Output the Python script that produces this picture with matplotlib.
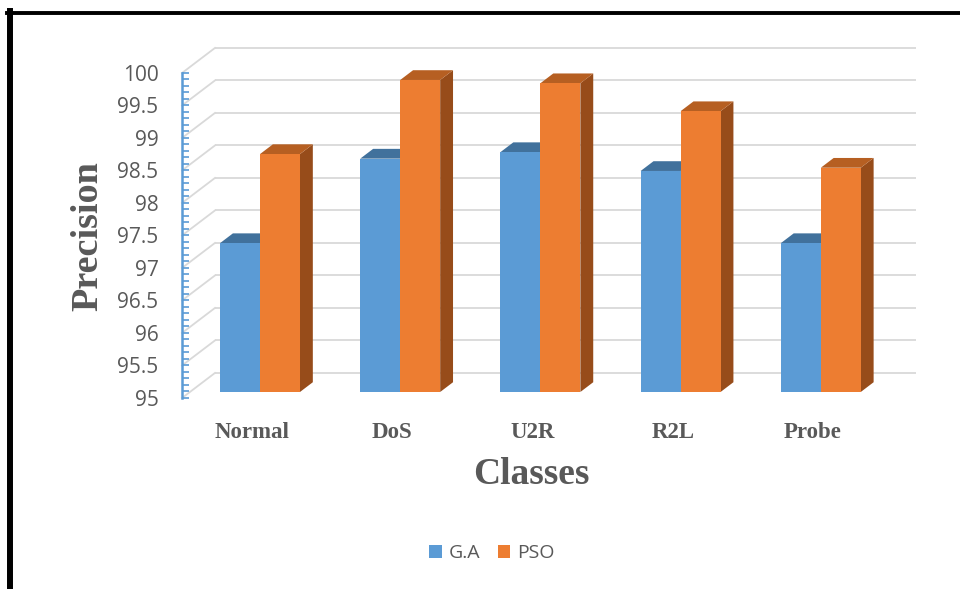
import numpy as np
import matplotlib.pyplot as plt
from matplotlib.patches import Polygon, Patch
from matplotlib.lines import Line2D

# precision per class for both optimisers
categories = ['Normal', 'DoS', 'U2R', 'R2L', 'Probe']
ga_vals = [97.29, 98.59, 98.69, 98.40, 97.29]
pso_vals = [98.66, 99.80, 99.75, 99.32, 98.45]
y_ticks = np.arange(95, 100.01, 0.5)

# pseudo 3d box: full depth vector in data units, bar front/back depth fractions
DX, DY = 0.235, 0.385
FRONT, BACK = 0.24, 0.63
W = 0.285
grid_c = '#d9d9d9'
txt_c = '#595959'
blue = ('#5b9bd5', '#41719c', '#3a6792')
orange = ('#ed7d31', '#b65f22', '#974c1a')

fig = plt.figure(figsize=(9.6, 5.89), dpi=100)
ax = fig.add_axes([0.1896, 0.3243, 0.7302, 0.5518])
ax.set_xlim(-0.5, 4.5)
ax.set_ylim(95, 100)

# back wall + side wall gridlines
for v in y_ticks:
    ax.plot([-0.5 + DX, 4.5 + DX], [v + DY, v + DY], color=grid_c, lw=1.3,
            clip_on=False, zorder=1, solid_capstyle='butt')
    ax.plot([-0.5, -0.5 + DX], [v, v + DY], color=grid_c, lw=1.3,
            clip_on=False, zorder=1)


def draw_bar(x0, v, cols, z):
    fx, fy = FRONT * DX, FRONT * DY
    bx, by = (BACK - FRONT) * DX, (BACK - FRONT) * DY
    left = x0 + fx
    right = left + W
    base = 95 + fy
    top = v + fy
    side = Polygon([(right, base), (right + bx, base + by), (right + bx, top + by), (right, top)],
                   closed=True, facecolor=cols[2], edgecolor='none', clip_on=False, zorder=z)
    lid = Polygon([(left, top), (right, top), (right + bx, top + by), (left + bx, top + by)],
                  closed=True, facecolor=cols[1], edgecolor='none', clip_on=False, zorder=z)
    ax.add_patch(side)
    ax.add_patch(lid)
    ax.bar(left, v - 95, width=W, bottom=base, align='edge', color=cols[0],
           clip_on=False, zorder=z)


x = np.arange(len(categories))
for i in x:
    draw_bar(i - W, ga_vals[i], blue, 3)
    draw_bar(i, pso_vals[i], orange, 4)

# axes styling
for s in ['top', 'right', 'bottom']:
    ax.spines[s].set_visible(False)
ax.spines['left'].set_color('#5b9bd5')
ax.spines['left'].set_linewidth(1.8)
ax.set_yticks(y_ticks)
ax.set_yticklabels([f'{v:g}' for v in y_ticks], fontfamily='Open Sans')
ax.set_yticks(np.arange(95, 100.01, 0.1), minor=True)
ax.tick_params(axis='y', which='both', direction='in', length=5, width=1.2,
               color='#5b9bd5', labelsize=15, labelcolor=txt_c, pad=17)
ax.set_xticks(x)
ax.set_xticklabels(categories, fontfamily='Liberation Serif', fontweight='bold',
                   fontsize=16.5, color=txt_c)
ax.tick_params(axis='x', length=0, pad=17.5)
ax.set_facecolor('none')

fig.text(88 / 960, 1 - 236 / 589, 'Precision', rotation=90, ha='center', va='center',
         fontfamily='Liberation Serif', fontweight='bold', fontsize=27.5, color=txt_c)
fig.text(531 / 960, 1 - 475 / 589, 'Classes', ha='center', va='center',
         fontfamily='Liberation Serif', fontweight='bold', fontsize=27, color=txt_c)

handles = [Patch(facecolor=blue[0], label='G.A'), Patch(facecolor=orange[0], label='PSO')]
fig.legend(handles=handles, loc='center', bbox_to_anchor=(492 / 960, 1 - 553 / 589), ncol=2,
           frameon=False, prop={'family': 'Open Sans', 'size': 14}, labelcolor=txt_c,
           handlelength=0.65, handleheight=0.65, handletextpad=0.35, columnspacing=0.9)

# black frame on the left and top edges
fig.add_artist(Line2D([10 / 960, 10 / 960], [0, 1 - 11 / 589], color='black', lw=4.3,
                      transform=fig.transFigure))
fig.add_artist(Line2D([7 / 960, 1], [1 - 13 / 589, 1 - 13 / 589], color='black', lw=2.8,
                      transform=fig.transFigure))

fig.savefig('out.png', dpi=100)
